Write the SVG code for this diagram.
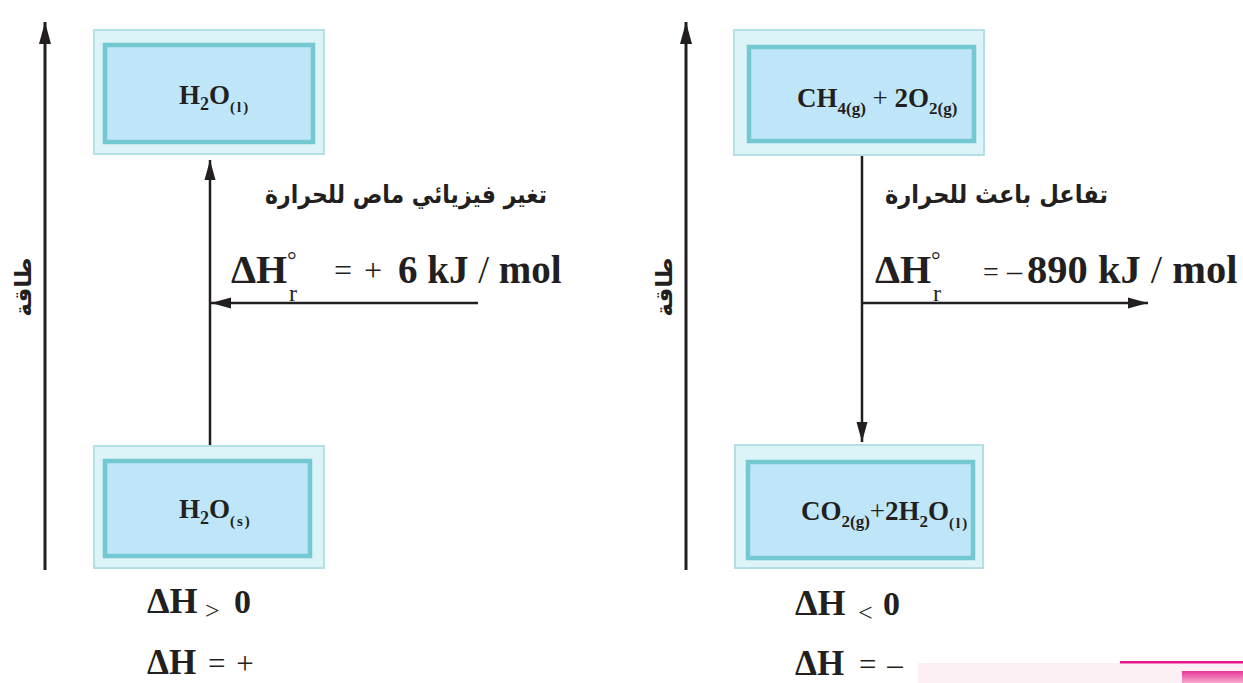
<svg xmlns="http://www.w3.org/2000/svg" width="1243" height="683" viewBox="0 0 1243 683">
<style>
.frame{fill:#dcf3f8;stroke:#b3e0e8;stroke-width:2}
.box{fill:#bee6f8;stroke:#74c8d2;stroke-width:4.5}
.chem{font-family:"Liberation Serif","Times New Roman",serif;font-weight:bold;fill:#231f20}
.reg{font-family:"Liberation Serif","Times New Roman",serif;font-weight:normal;fill:#231f20}
.ar{font-family:"DejaVu Sans",sans-serif;font-weight:bold;fill:#231f20}
.ln{stroke:#231f20;stroke-width:2.5;fill:none}
.axis{stroke:#231f20;stroke-width:3;fill:none}
</style>
<defs>
<marker id="ah" markerUnits="userSpaceOnUse" markerWidth="24" markerHeight="12" refX="22" refY="6" orient="auto">
<path d="M0,0 L22,6 L0,12 z" fill="#231f20"/>
</marker>
<marker id="ahs" markerUnits="userSpaceOnUse" markerWidth="24" markerHeight="12" refX="20" refY="6" orient="auto">
<path d="M0,0.5 L20,6 L0,11.5 z" fill="#231f20"/>
</marker>
<linearGradient id="pg" x1="0" y1="0" x2="0" y2="1">
<stop offset="0" stop-color="#e8369a"/>
<stop offset="1" stop-color="#f7a8cc"/>
</linearGradient>
</defs>
<rect width="1243" height="683" fill="#ffffff"/>

<g id="connectors">
<line class="axis" x1="45" y1="570" x2="45" y2="22" marker-end="url(#ah)"/>
<line class="axis" x1="686" y1="570" x2="686" y2="22" marker-end="url(#ah)"/>
<line class="ln" x1="210" y1="445" x2="210" y2="160" marker-end="url(#ahs)"/>
<line class="ln" x1="478" y1="303" x2="211" y2="303" marker-end="url(#ahs)"/>
<line class="ln" x1="862" y1="156" x2="862" y2="442" marker-end="url(#ahs)"/>
<line class="ln" x1="862" y1="303" x2="1148" y2="303" marker-end="url(#ahs)"/>
</g>

<g id="axis-label-left">
<text class="ar" font-size="23" text-anchor="middle" transform="translate(31,287) rotate(-90)">طاقة</text>
</g>
<g id="axis-label-right">
<text class="ar" font-size="23" text-anchor="middle" transform="translate(672,287) rotate(-90)">طاقة</text>
</g>

<g id="node-h2o-l">
<rect class="frame" x="94" y="30" width="230" height="124"/>
<rect class="box" x="105" y="45" width="208" height="97"/>
<text class="chem" x="179" y="104" font-size="27">H<tspan font-size="18" dy="6">2</tspan><tspan dy="-6">O</tspan><tspan font-size="15" dy="8" letter-spacing="2">(l)</tspan></text>
</g>

<g id="node-h2o-s">
<rect class="frame" x="94" y="446" width="230" height="122"/>
<rect class="box" x="105" y="461" width="205" height="95"/>
<text class="chem" x="179" y="518" font-size="27">H<tspan font-size="18" dy="6">2</tspan><tspan dy="-6">O</tspan><tspan font-size="15" dy="8" letter-spacing="2">(s)</tspan></text>
</g>

<g id="node-ch4">
<rect class="frame" x="734" y="30" width="250" height="125"/>
<rect class="box" x="749" y="47" width="225" height="94"/>
<text class="chem" x="797" y="107" font-size="27">CH<tspan font-size="17" dy="7">4(g)</tspan><tspan font-weight="normal" dy="-7"> + </tspan><tspan>2O</tspan><tspan font-size="17" dy="7">2(g)</tspan></text>
</g>

<g id="node-co2">
<rect class="frame" x="735" y="445" width="248" height="123"/>
<rect class="box" x="748" y="462" width="225" height="96"/>
<text class="chem" x="801" y="520" font-size="27">CO<tspan font-size="17" dy="7">2(g)</tspan><tspan font-weight="normal" dy="-7">+</tspan><tspan>2H</tspan><tspan font-size="17" dy="7">2</tspan><tspan dy="-7">O</tspan><tspan font-size="15" dy="8" letter-spacing="2">(l)</tspan></text>
</g>

<g id="label-left">
<text class="ar" x="547" y="203" font-size="25" text-anchor="end" textLength="282" lengthAdjust="spacingAndGlyphs">تغير فيزيائي ماص للحرارة</text>
<text class="chem" x="231" y="283" font-size="40">ΔH</text>
<text class="reg" x="287" y="268" font-size="24">°</text>
<text class="reg" x="289" y="301" font-size="24">r</text>
<text class="reg" x="334" y="281" font-size="32" word-spacing="4">= +</text>
<text class="chem" x="398" y="283" font-size="39">6 kJ <tspan font-weight="normal">/</tspan> mol</text>
</g>

<g id="label-right">
<text class="ar" x="1108" y="203" font-size="25" text-anchor="end" textLength="223" lengthAdjust="spacingAndGlyphs">تفاعل باعث للحرارة</text>
<text class="chem" x="875" y="283" font-size="40">ΔH</text>
<text class="reg" x="931" y="268" font-size="24">°</text>
<text class="reg" x="933" y="301" font-size="24">r</text>
<text class="reg" x="983" y="281" font-size="28">=</text>
<text class="reg" x="1007" y="281" font-size="30">–</text>
<text class="chem" x="1027" y="283" font-size="40.5">890 kJ <tspan font-weight="normal">/</tspan> mol</text>
</g>

<g id="sign-left">
<text class="chem" x="147" y="613" font-size="36">ΔH</text>
<text class="reg" x="205" y="619" font-size="26">&gt;</text>
<text class="chem" x="234" y="613" font-size="34">0</text>
<text class="chem" x="147" y="674" font-size="35">ΔH</text>
<text class="reg" x="208" y="674" font-size="31" word-spacing="3">= +</text>
</g>

<g id="sign-right">
<text class="chem" x="795" y="615" font-size="36">ΔH</text>
<text class="reg" x="858" y="621" font-size="26">&lt;</text>
<text class="chem" x="883" y="615" font-size="34">0</text>
<text class="chem" x="795" y="675" font-size="35">ΔH</text>
<text class="reg" x="859" y="675" font-size="31" word-spacing="3">= –</text>
</g>

<g id="decor">
<rect x="918" y="663" width="325" height="20" fill="#fdf0f5"/>
<rect x="1120" y="661" width="123" height="2.5" fill="#e6168c"/>
<rect x="1182" y="671" width="61" height="12" fill="url(#pg)"/>
</g>
</svg>
